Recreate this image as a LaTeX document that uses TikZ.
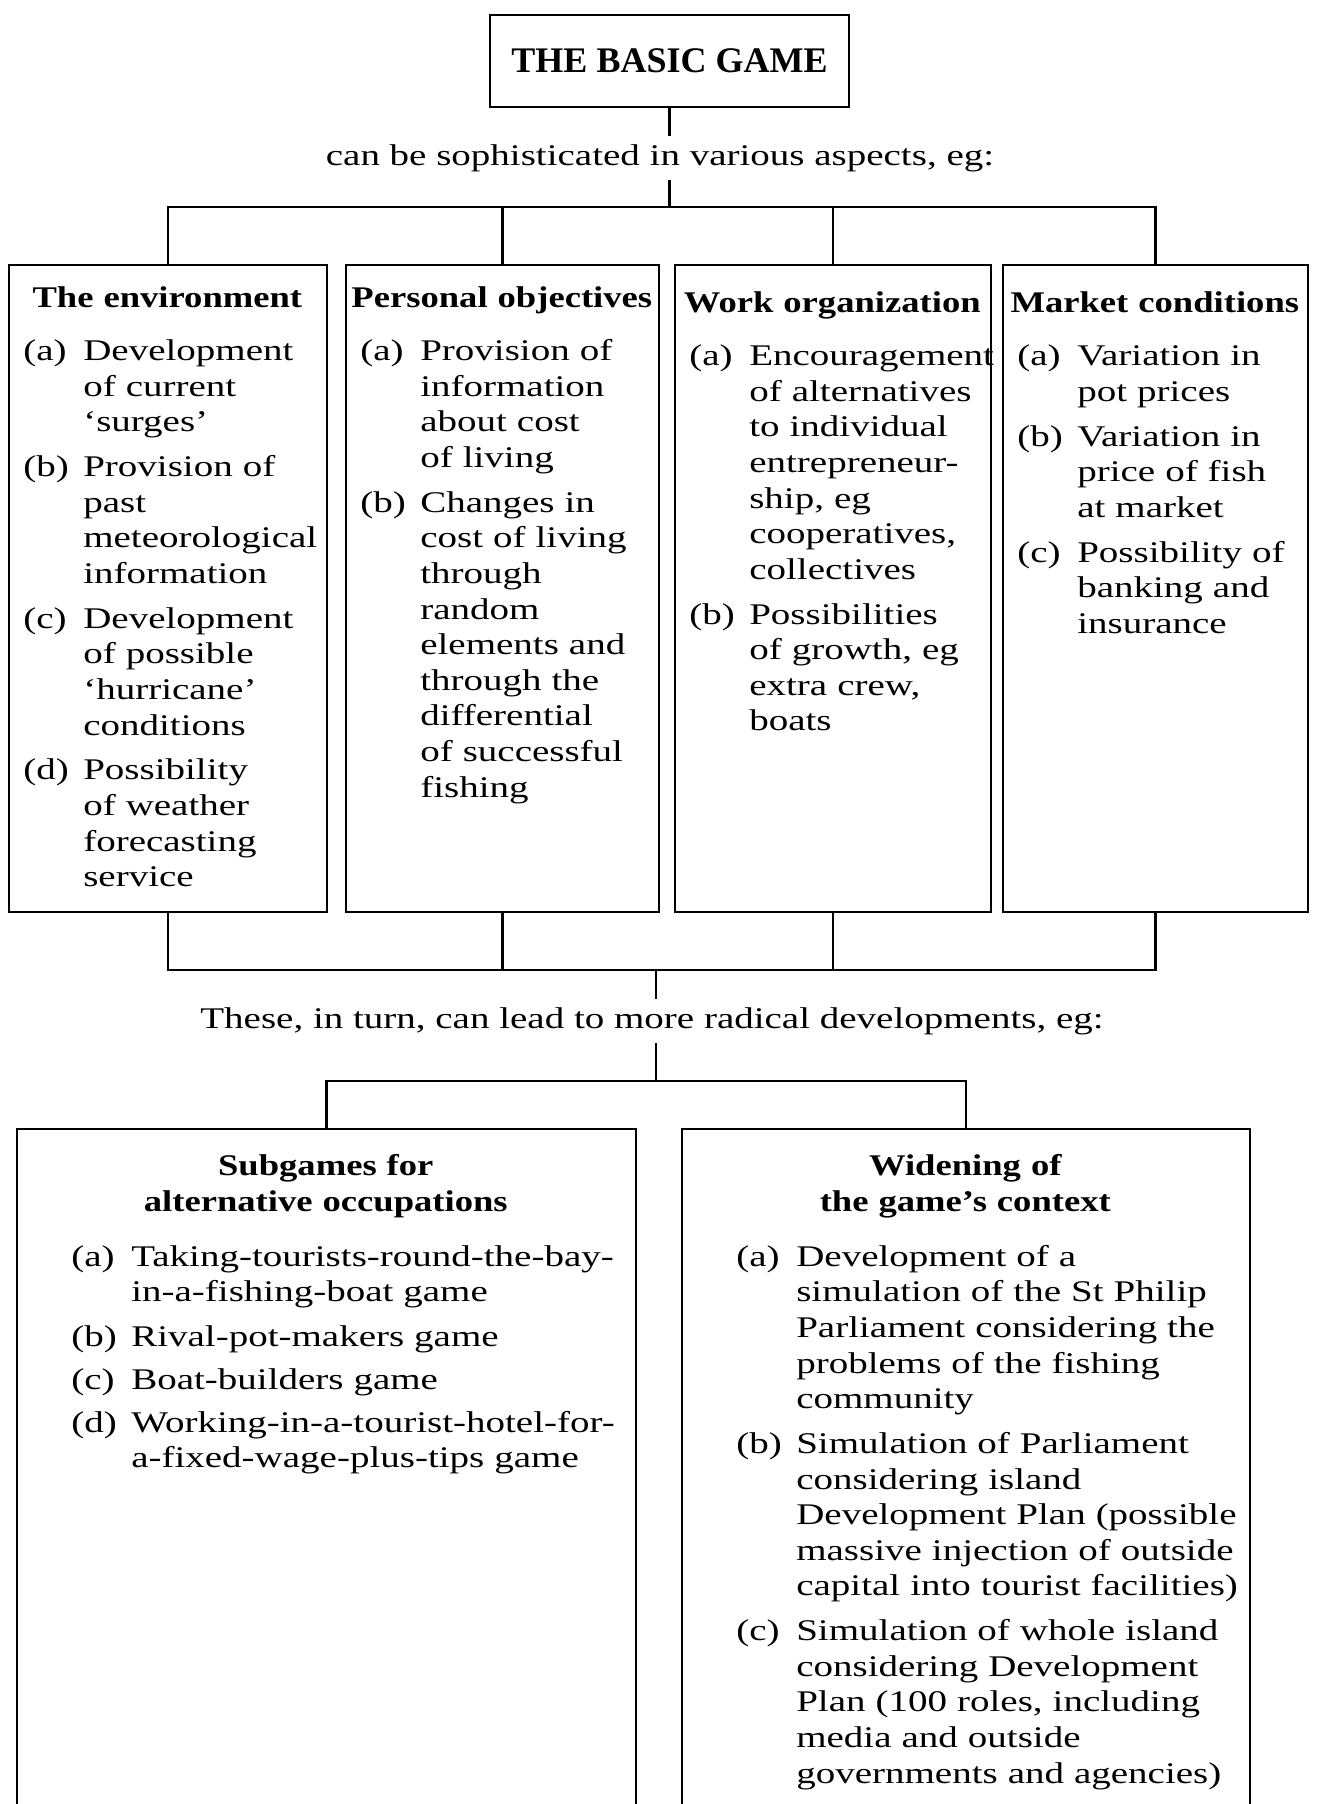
\documentclass[tikz,border=0pt]{standalone}
\usepackage{fontspec}
\setmainfont{Liberation Serif}[FakeStretch=1.3, BoldFeatures={FakeStretch=1.22}]
\newfontfamily\titlefont{Liberation Serif}

% one lettered point of a panel: label, then its lines
\newcommand{\entry}[2]{\par\vspace{3.6pt}\noindent\makebox[30pt][l]{#1}%
  \begin{tabular}[t]{@{}l@{}}#2\end{tabular}\par}
% bold heading of a panel, centred (may run over)
\newcommand{\panelhead}[1]{\par\noindent\hbox to\hsize{\hss\bfseries
  \begin{tabular}[t]{@{}c@{}}#1\end{tabular}\hss}\par\vspace{5pt}}

\begin{document}
\begin{tikzpicture}[
    x=0.5pt, y=-0.5pt,
    every node/.style={font=\fontsize{15}{17.8}\selectfont},
    panel/.style={rectangle, draw=black, line width=1.1pt, inner sep=0pt},
    txt/.style={anchor=north west, inner sep=0pt, align=left, text width=#1},
    caption/.style={inner sep=4pt},
    link/.style={line width=1.1pt},
]
\useasboundingbox (0,0) rectangle (1317,1804);

\node[panel, minimum width=179.5pt, minimum height=46pt,
      font=\titlefont\bfseries\fontsize{18}{21}\selectfont] (top) at (669.5,61) {THE BASIC GAME};
\node[caption] (sophist) at (660,158) {can be sophisticated in various aspects, eg:};

% the four aspects
\node[panel, minimum width=159pt, minimum height=323.5pt] (env) at (168,588.5) {};
\node[panel, minimum width=156.5pt, minimum height=323.5pt] (pers) at (502.5,588.5) {};
\node[panel, minimum width=158pt, minimum height=323.5pt] (work) at (833,588.5) {};
\node[panel, minimum width=152.5pt, minimum height=323.5pt] (mkt) at (1155.5,588.5) {};

\node[txt=144pt] (envtxt) at ([shift={(15,8)}]env.north west) {%
  \panelhead{The environment}
  \entry{(a)}{Development\\of current\\`surges'}
  \entry{(b)}{Provision of\\past\\meteorological\\information}
  \entry{(c)}{Development\\of possible\\`hurricane'\\conditions}
  \entry{(d)}{Possibility\\of weather\\forecasting\\service}};
\node[txt=141.5pt] (perstxt) at ([shift={(15,8)}]pers.north west) {%
  \panelhead{Personal objectives}
  \entry{(a)}{Provision of\\information\\about cost\\of living}
  \entry{(b)}{Changes in\\cost of living\\through\\random\\elements and\\through the\\differential\\of successful\\fishing}};
\node[txt=143pt] (worktxt) at ([shift={(15,13)}]work.north west) {%
  \panelhead{Work organization}
  \entry{(a)}{Encouragement\\of alternatives\\to individual\\entrepreneur-\\ship, eg\\cooperatives,\\collectives}
  \entry{(b)}{Possibilities\\of growth, eg\\extra crew,\\boats}};
\node[txt=137.5pt] (mkttxt) at ([shift={(15,13)}]mkt.north west) {%
  \panelhead{Market conditions}
  \entry{(a)}{Variation in\\pot prices}
  \entry{(b)}{Variation in\\price of fish\\at market}
  \entry{(c)}{Possibility of\\banking and\\insurance}};

\coordinate (fork1) at (669.5,207);
\draw[link] (top.south) -- (top.south |- sophist.north);
\draw[link] (sophist.south -| top.south) -- (fork1);
\draw[link] (env.north) |- (fork1) -| (mkt.north);
\draw[link] (pers.north) -- (pers.north |- fork1);
\draw[link] (work.north) -- (work.north |- fork1);

\coordinate (fork2) at (656,970);
\draw[link] (env.south) |- (fork2) -| (mkt.south);
\draw[link] (pers.south) -- (pers.south |- fork2);
\draw[link] (work.south) -- (work.south |- fork2);

\node[caption] (radical) at (652,1021) {These, in turn, can lead to more radical developments, eg:};
\coordinate (fork3) at (656,1081);
\draw[link] (fork2) -- (fork2 |- radical.north);
\draw[link] (radical.south -| fork3) -- (fork3);

% the two radical developments (run off the page)
\node[panel, minimum width=309.5pt, minimum height=365.5pt] (subg) at (326.5,1494.5) {};
\node[panel, minimum width=284pt, minimum height=365.5pt] (widen) at (966,1494.5) {};
\draw[link] (subg.north) |- (fork3) -| (widen.north);

\node[txt=294.5pt] (subgtxt) at ([shift={(15,12)}]subg.north west) {%
  \panelhead{Subgames for\\alternative occupations}
  \leftskip=20pt
  \entry{(a)}{Taking-tourists-round-the-bay-\\in-a-fishing-boat game}
  \entry{(b)}{Rival-pot-makers game}
  \entry{(c)}{Boat-builders game}
  \entry{(d)}{Working-in-a-tourist-hotel-for-\\a-fixed-wage-plus-tips game}};
\node[txt=269pt] (widentxt) at ([shift={(15,12)}]widen.north west) {%
  \panelhead{Widening of\\the game's context}
  \leftskip=20pt
  \entry{(a)}{Development of a\\simulation of the St Philip\\Parliament considering the\\problems of the fishing\\community}
  \entry{(b)}{Simulation of Parliament\\considering island\\Development Plan (possible\\massive injection of outside\\capital into tourist facilities)}
  \entry{(c)}{Simulation of whole island\\considering Development\\Plan (100 roles, including\\media and outside\\governments and agencies)}};

\end{tikzpicture}
\end{document}
